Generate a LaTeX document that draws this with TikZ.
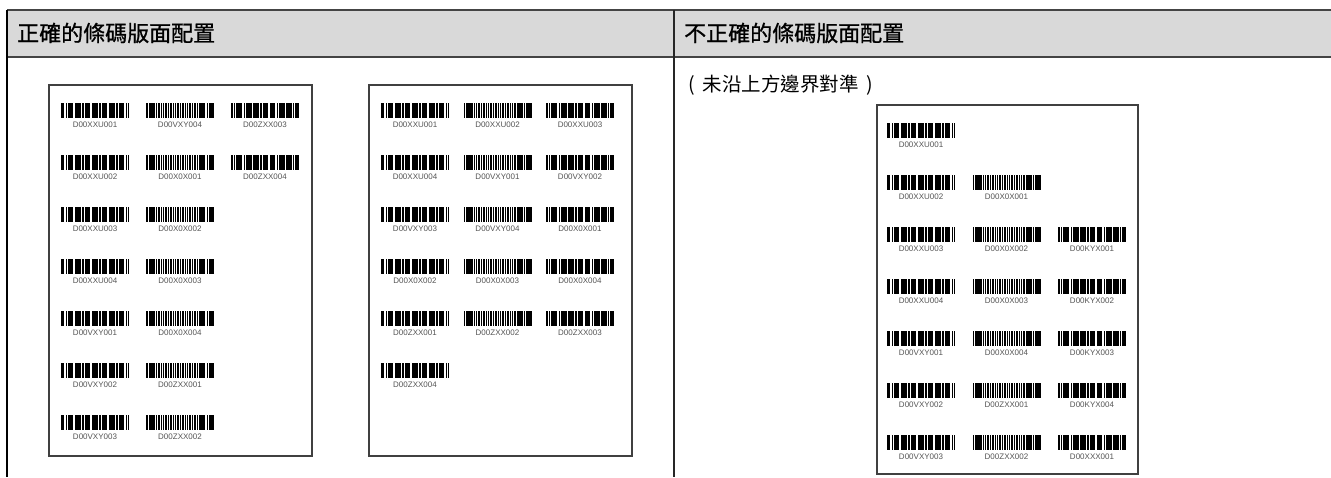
\documentclass[tikz,border=0pt]{standalone}
\usepackage{fontspec}
\setmainfont{Liberation Sans}
\newfontfamily\cjk{Noto Sans CJK TC}
\newfontfamily\cjkhead{Noto Sans CJK TC}[FakeBold=0.9]
\definecolor{headgray}{HTML}{D9D9D9}
\definecolor{rulegray}{HTML}{444444}
\definecolor{labelgray}{HTML}{555555}

\tikzset{
  codelbl/.style={font=\fontsize{8}{9}\selectfont, text=labelgray, inner sep=0pt},
  pagebox/.style={draw=black!75, line width=1.1pt, fill=white},
  headtxt/.style={font=\cjkhead\fontsize{22}{24}\selectfont, anchor=west, inner sep=0pt},
  subtxt/.style={font=\cjk\fontsize{19.5}{21}\selectfont, anchor=west, inner sep=0pt},
}

% bar patterns, one per column (start/end of each bar in px)
\def\patA{0/3,4.5/6,7/12,13.5/19.5,21/22.5,23.5/29,30.5/36.5,38/39.5,40.5/46,47.5/53.5,55/56.5,57.5/63,65/66,67/68}
\def\patB{0/1.5,2.5/9,10/11,12/13.5,14.5/16,17/18,19/21,22/23,24/25.5,26.5/28,29/30,31/33,34/35,36/37.5,38.5/40,41/42,43/45,46/47,48/49.5,50.5/52,53/59,60.5/61.5,62.5/68}
\def\patC{0/1.5,3/4,5/11,12.5/14,15/20.5,22/27.5,29/30.5,31.5/37,38.5/44,45.5/47,48/53.5,55/60.5,62/63,64/68}

% barcode with top-left corner at #1,#2, column #3
\newcommand\barcode[3]{%
  \ifcase#3 \let\curpat\patA\or\let\curpat\patB\or\let\curpat\patC\fi
  \foreach \a/\b in \curpat {\fill (#1+\a,#2) rectangle (#1+\b,#2+14.5);}}

\begin{document}
\begin{tikzpicture}[x=1pt,y=-1pt]
  \useasboundingbox (0,0) rectangle (1331,477);

  % table
  \fill[headgray] (7,10) rectangle (1331,57);
  \draw[rulegray,line width=2pt] (7,10) -- (1331,10);
  \draw[rulegray,line width=2pt] (7,57) -- (1331,57);
  \draw[black,line width=1.2pt] (7,10) -- (7,477);
  \draw[black!85,line width=1.5pt] (674,10) -- (674,477);
  \node[headtxt] (headok) at (17,33) {正確的條碼版面配置};
  \node[headtxt] (headbad) at (684,33) {不正確的條碼版面配置};
  \node[subtxt] (note) at (688,85) {(\hspace{8pt}未沿上方邊界對準\hspace{8pt})};

  % correct layout, page 1
  \draw[pagebox] (49,85) rectangle (312,456);
  \foreach \c/\r/\t in {0/0/D00XXU001,1/0/D00VXY004,2/0/D00ZXX003,
      0/1/D00XXU002,1/1/D00X0X001,2/1/D00ZXX004,
      0/2/D00XXU003,1/2/D00X0X002,
      0/3/D00XXU004,1/3/D00X0X003,
      0/4/D00VXY001,1/4/D00X0X004,
      0/5/D00VXY002,1/5/D00ZXX001,
      0/6/D00VXY003,1/6/D00ZXX002} {
    \pgfmathsetmacro\bx{61+85*\c}
    \pgfmathsetmacro\by{103+52*\r}
    \barcode{\bx}{\by}{\c}
    \node[codelbl] (pa-\r-\c) at (\bx+34,\by+21.5) {\t};
  }

  % correct layout, page 2
  \draw[pagebox] (369,85) rectangle (632,456);
  \foreach \c/\r/\t in {0/0/D00XXU001,1/0/D00XXU002,2/0/D00XXU003,
      0/1/D00XXU004,1/1/D00VXY001,2/1/D00VXY002,
      0/2/D00VXY003,1/2/D00VXY004,2/2/D00X0X001,
      0/3/D00X0X002,1/3/D00X0X003,2/3/D00X0X004,
      0/4/D00ZXX001,1/4/D00ZXX002,2/4/D00ZXX003,
      0/5/D00ZXX004} {
    \pgfmathsetmacro\bx{381+82.5*\c}
    \pgfmathsetmacro\by{103+52*\r}
    \barcode{\bx}{\by}{\c}
    \node[codelbl] (pb-\r-\c) at (\bx+34,\by+21.5) {\t};
  }

  % wrong layout
  \draw[pagebox] (877,105) rectangle (1138,474);
  \foreach \c/\r/\t in {0/0/D00XXU001,
      0/1/D00XXU002,1/1/D00X0X001,
      0/2/D00XXU003,1/2/D00X0X002,2/2/D00KYX001,
      0/3/D00XXU004,1/3/D00X0X003,2/3/D00KYX002,
      0/4/D00VXY001,1/4/D00X0X004,2/4/D00KYX003,
      0/5/D00VXY002,1/5/D00ZXX001,2/5/D00KYX004,
      0/6/D00VXY003,1/6/D00ZXX002,2/6/D00XXX001} {
    \pgfmathsetmacro\bx{887+85.5*\c}
    \pgfmathsetmacro\by{123+52*\r}
    \barcode{\bx}{\by}{\c}
    \node[codelbl] (pc-\r-\c) at (\bx+34,\by+21.5) {\t};
  }
\end{tikzpicture}
\end{document}
